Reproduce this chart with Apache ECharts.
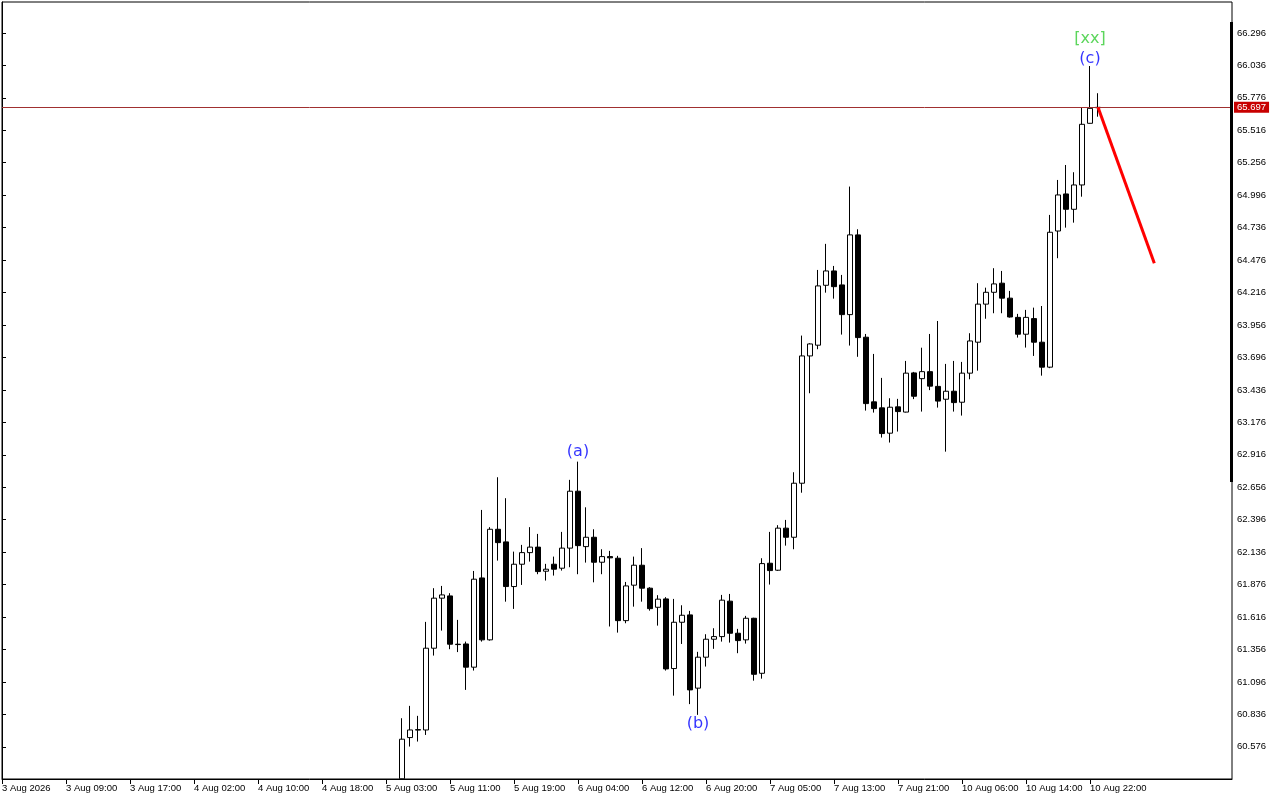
<!DOCTYPE html>
<html><head><meta charset="utf-8">
<script src="https://cdn.jsdelivr.net/npm/echarts@6/dist/echarts.min.js"></script>
<style>html,body{margin:0;padding:0;background:#fff}#c{width:1280px;height:800px}</style>
</head><body><div id="c"></div>
<script>
// time axis labels (one every 8 hourly bars)
const timeLabels = ['3 Aug 2026','3 Aug 09:00','3 Aug 17:00','4 Aug 02:00','4 Aug 10:00','4 Aug 18:00',
  '5 Aug 03:00','5 Aug 11:00','5 Aug 19:00','6 Aug 04:00','6 Aug 12:00','6 Aug 20:00',
  '7 Aug 05:00','7 Aug 13:00','7 Aug 21:00','10 Aug 06:00','10 Aug 14:00','10 Aug 22:00'];
const barsPerLabel = 8;
const firstBar = 50; // index of first visible bar
const openVals = [60.32,60.650,60.710,60.711,61.366,61.767,61.785,61.398,61.400,61.214,
  61.929,61.433,62.319,62.218,61.860,62.039,62.132,62.176,61.983,62.039,
  62.007,62.168,62.624,62.180,62.255,62.055,62.100,62.087,61.587,61.871,
  62.031,61.847,61.694,61.761,61.203,61.574,61.633,61.046,61.294,61.438,
  61.459,61.743,61.486,61.433,61.606,61.165,62.047,61.991,62.328,62.255,
  62.688,63.708,63.794,64.274,64.389,64.277,64.039,64.678,63.858,63.340,
  63.292,63.089,63.300,63.258,63.572,63.526,63.582,63.464,63.361,63.425,
  63.337,63.570,63.818,64.123,64.218,64.291,64.171,64.017,63.882,64.007,
  63.818,63.618,64.709,65.006,64.883,65.078,65.572,65.700];
const closeVals = [60.637,60.711,60.714,61.366,61.767,61.793,61.398,61.395,61.214,61.919,
  61.433,62.319,62.212,61.860,62.039,62.132,62.176,61.980,61.999,61.999,
  62.168,62.624,62.188,62.255,62.055,62.100,62.090,61.587,61.865,62.031,
  61.847,61.683,61.759,61.200,61.574,61.630,61.032,61.294,61.438,61.459,
  61.751,61.486,61.427,61.606,61.157,62.044,61.988,62.328,62.255,62.688,
  63.708,63.804,64.269,64.389,64.263,64.039,64.678,63.855,63.326,63.286,
  63.086,63.297,63.262,63.570,63.385,63.582,63.466,63.346,63.425,63.334,
  63.570,63.828,64.123,64.218,64.285,64.171,64.020,63.882,64.017,63.818,
  63.618,64.699,64.998,64.883,65.078,65.564,65.692,65.697];
const lowVals = [60.319,60.578,60.618,60.671,61.307,61.507,61.358,61.335,61.032,61.187,
  61.419,61.427,62.068,61.739,61.681,61.873,62.060,61.959,61.908,61.948,
  61.988,62.015,61.959,62.052,61.894,61.959,61.540,61.491,61.566,61.699,
  61.739,61.667,61.547,61.187,60.986,61.400,60.918,60.832,61.219,61.361,
  61.419,61.411,61.326,61.403,61.106,61.122,61.876,61.985,62.188,62.159,
  62.612,63.409,63.762,64.215,64.167,63.879,63.791,63.701,63.270,63.254,
  63.054,63.014,63.102,63.255,63.362,63.262,63.434,63.294,62.941,63.262,
  63.230,63.521,63.590,64.006,64.050,64.050,64.015,63.855,63.775,63.708,
  63.550,63.610,64.491,64.736,64.776,64.984,65.570,65.625];
const highVals = [60.805,60.904,60.824,61.577,61.847,61.865,61.807,61.593,61.419,61.985,
  62.474,62.336,62.736,62.568,62.140,62.194,62.336,62.282,62.042,62.100,
  62.298,62.715,62.861,62.495,62.319,62.159,62.146,62.106,61.897,62.100,
  62.168,61.855,61.791,61.775,61.761,61.710,61.665,61.337,61.478,61.526,
  61.793,61.801,61.521,61.625,61.610,62.087,62.298,62.352,62.394,62.776,
  63.871,63.810,64.397,64.606,64.429,64.357,65.065,64.723,63.884,63.724,
  63.532,63.369,63.364,63.668,63.580,63.774,63.884,63.988,63.644,63.668,
  63.660,63.890,64.291,64.255,64.411,64.389,64.229,64.045,64.077,64.095,
  64.108,64.838,65.118,65.238,65.180,65.697,66.031,65.813];
const priceTicks = [60.576,60.836,61.096,61.356,61.616,61.876,62.136,62.396,62.656,62.916,63.176,63.436,
  63.696,63.956,64.216,64.476,64.736,64.996,65.256,65.516,65.776,66.036,66.296];
const currentPrice = 65.697;
const forecastX = [137, 144.04];
const forecastY = [65.700, 64.451];
const waveText = ['(a)','(b)','(c)','[xx]'];
const waveX = [72, 87, 136, 136];
const waveY = [62.939, 60.760, 66.087, 66.248];
const waveColor = ['#0000ff','#0000ff','#0000ff','#33cc33'];

const candleData = openVals.map((o, i) => [firstBar + i, o, closeVals[i], lowVals[i], highVals[i]]);
const xTickVals = timeLabels.map((_, i) => i * barsPerLabel);
const font = 'Liberation Sans, Arial, sans-serif';

const chart = echarts.init(document.getElementById('c'), null, {renderer: 'canvas'});
chart.setOption({
  animation: false,
  backgroundColor: '#fff',
  grid: {left: 2, right: 48, top: 2, bottom: 21, show: true, borderColor: '#000', borderWidth: 1,
         containLabel: false, outerBoundsMode: 'none'},
  xAxis: {
    type: 'value', min: 0, max: 153.75, position: 'bottom',
    axisLine: {show: true, lineStyle: {color: '#000', width: 1}},
    axisTick: {show: true, length: 5, lineStyle: {color: '#000'}, customValues: xTickVals},
    axisLabel: {show: true, customValues: xTickVals, align: 'left', margin: 4,
      fontSize: 9.5, fontFamily: font, color: '#000',
      formatter: v => timeLabels[Math.round(v / barsPerLabel)] || ''},
    splitLine: {show: false}
  },
  yAxis: {
    type: 'value', position: 'right', min: 60.318, max: 66.544, scale: true,
    axisLine: {show: true, lineStyle: {color: '#000', width: 1}},
    axisTick: {show: true, length: 4, lineStyle: {color: '#000'}, customValues: priceTicks},
    axisLabel: {show: true, customValues: priceTicks, margin: 5, fontSize: 9.5, fontFamily: font, color: '#000',
      formatter: v => v.toFixed(3)},
    splitLine: {show: false}
  },
  graphic: [{type: 'rect', z: 100, shape: {x: 1230, y: 22, width: 3, height: 460}, style: {fill: '#000'}}],
  series: [
    {
      type: 'candlestick', data: candleData, barWidth: 5, clip: true,
      itemStyle: {color: '#fff', color0: '#000', borderColor: '#000', borderColor0: '#000', borderWidth: 1},
      markLine: {
        silent: true, symbol: ['none', 'none'], animation: false,
        lineStyle: {color: '#a03030', width: 1, type: 'solid'},
        label: {show: true, position: 'end', distance: 2, formatter: currentPrice.toFixed(3),
          color: '#fff', backgroundColor: '#c80000', padding: [1, 3, 0, 3], fontSize: 9.5, fontFamily: font},
        data: [{yAxis: currentPrice}]
      }
    },
    {
      type: 'line', data: forecastX.map((x, i) => [x, forecastY[i]]), symbol: 'none', clip: false,
      lineStyle: {color: '#ff0000', width: 3}, z: 5
    },
    {
      type: 'scatter', symbolSize: 0, z: 6, clip: false,
      data: waveText.map((t, i) => ({value: [waveX[i], waveY[i]],
        label: {show: true, position: 'inside', formatter: t, color: waveColor[i],
          fontSize: 16, fontFamily: 'DejaVu Sans, sans-serif'}}))
    }
  ]
});
</script></body></html>
